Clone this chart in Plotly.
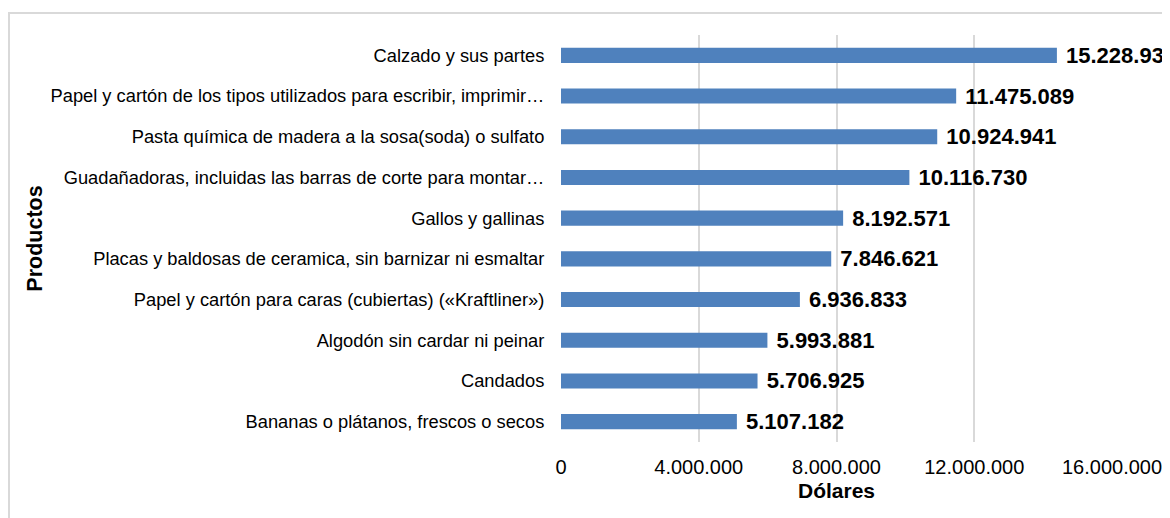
import plotly.graph_objects as go

productos = ["Bananas o plátanos, frescos o secos",
             "Candados",
             "Algodón sin cardar ni peinar",
             "Papel y cartón para caras (cubiertas) («Kraftliner»)",
             "Placas y baldosas de ceramica, sin barnizar ni esmaltar",
             "Gallos y gallinas",
             "Guadañadoras, incluidas las barras de corte para montar…",
             "Pasta química de madera a la sosa(soda) o sulfato",
             "Papel y cartón de los tipos utilizados para escribir, imprimir…",
             "Calzado y sus partes"]
# valores de las etiquetas
dolares = [5107182, 5706925, 5993881, 6936833, 7846621,
           8192571, 10116730, 10924941, 11475089, 15228938]
# largo de barra (la de Calzado se ve mas corta que su etiqueta)
largo_barra = [5107182, 5706925, 5993881, 6936833, 7846621,
               8192571, 10116730, 10924941, 11475089, 14400000]
ticks_x = [0, 4000000, 8000000, 12000000, 16000000]

fig = go.Figure()
fig.add_trace(go.Bar(y=productos, x=largo_barra, orientation="h",
                     marker=dict(color="#4F81BD", line=dict(width=0)),
                     width=0.37,
                     customdata=dolares,
                     texttemplate=" <b>%{customdata:,d}</b>", textposition="outside",
                     constraintext="none",
                     textfont=dict(family="Liberation Sans", size=22, color="#000"),
                     hovertemplate="%{y}<br>%{customdata:,d}<extra></extra>",
                     cliponaxis=False))

# el html deja 8px de margen en el body: se compensa en los margenes
fig.update_layout(width=1170, height=518, plot_bgcolor="#fff", paper_bgcolor="#fff",
                  separators=",.", showlegend=False,
                  margin=dict(l=553, r=66, t=27, b=84),
                  font=dict(family="Liberation Sans", color="#000"))
fig.update_xaxes(range=[0, 16000000], tickvals=ticks_x, tickformat=",d",
                 showgrid=True, gridcolor="#d9d9d9", gridwidth=1.5,
                 zeroline=False, showline=False,
                 ticks="outside", ticklen=7, tickcolor="rgba(0,0,0,0)",
                 tickfont=dict(size=20),
                 title=dict(text="<b>Dólares</b>", font=dict(size=21), standoff=6))
fig.update_yaxes(showgrid=False, zeroline=False, showline=False,
                 ticks="outside", ticklen=12, tickcolor="rgba(0,0,0,0)",
                 tickfont=dict(size=18.3),
                 title=dict(text="<b>Productos</b>", font=dict(size=21.5), standoff=2))
# borde del grafico
fig.add_shape(type="rect", xref="paper", yref="paper",
              x0=-552/551, x1=1.2, y0=-0.3, y1=1 + 22/407,
              line=dict(color="#d9d9d9", width=2), fillcolor="rgba(0,0,0,0)",
              layer="below")
fig.write_html("out.html")
